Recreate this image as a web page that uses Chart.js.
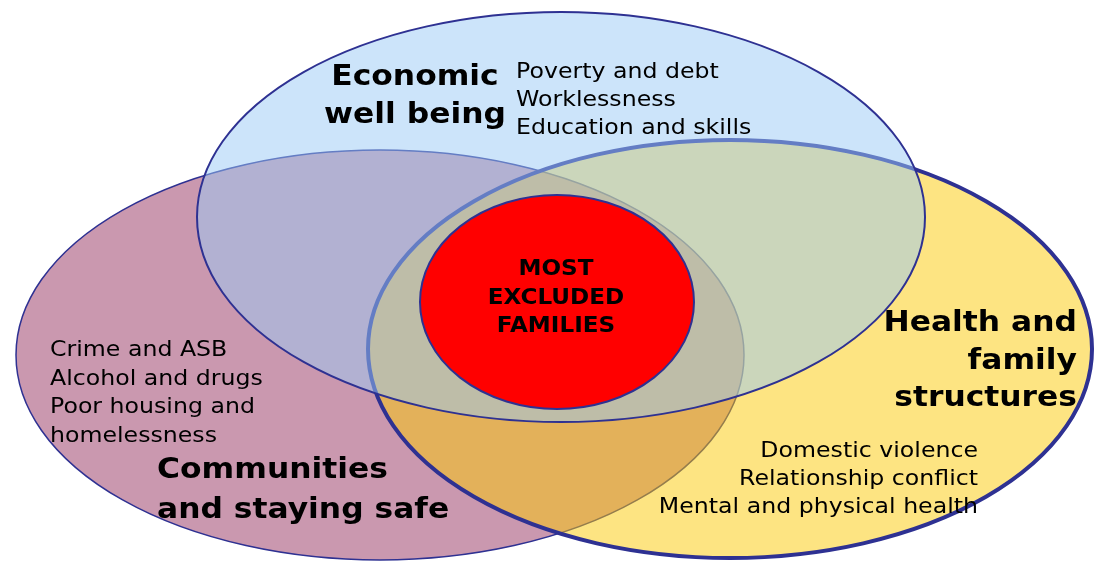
<!DOCTYPE html>
<html>
<head>
<meta charset="utf-8">
<script src="https://cdn.jsdelivr.net/npm/chart.js@4"></script>
<style>
    html, body { margin: 0; padding: 0; background: #ffffff; }
    #wrap { width: 1094px; height: 565px; }
</style>
</head>
<body>
<div id="wrap"><canvas id="venn"></canvas></div>
<script>
// Conjuntos do diagrama (ordem de desenho: de baixo para cima)
const sets = ['Communities and staying safe', 'Health and family structures', 'Economic well being', 'Most excluded families'];
const centreX = [380, 730, 561, 557];
const centreY = [355, 349, 217, 302];
const radiusX = [364, 362, 364, 137];
const radiusY = [205, 209, 205, 107];

// Títulos e listas de cada área
const economicTitle = ['Economic', 'well being'];
const economicItems = ['Poverty and debt', 'Worklessness', 'Education and skills'];
const communityTitle = ['Communities', 'and staying safe'];
const communityItems = ['Crime and ASB', 'Alcohol and drugs', 'Poor housing and', 'homelessness'];
const healthTitle = ['Health and', 'family', 'structures'];
const healthItems = ['Domestic violence', 'Relationship conflict', 'Mental and physical health'];
const centreTitle = ['MOST', 'EXCLUDED', 'FAMILIES'];

// Estilos das elipses
const fills = ['rgb(202,152,175)', 'rgba(251,201,5,0.5)', 'rgba(153,201,245,0.5)', '#ff0000'];
const strokes = ['#2e3192', '#2e3192', '#2e3192', '#2e3192'];
const strokeWidths = [1.5, 4, 2, 2];

// Posição dos blocos de texto (em unidades do eixo)
const textBlocks = [
    { lines: economicTitle, x: 415, y: 85, step: 38, align: 'center', bold: true, size: 27.5, sx: 1.14 },
    { lines: economicItems, x: 516, y: 78, step: 28, align: 'left', bold: false, size: 21.5, sx: 1.1 },
    { lines: communityItems, x: 50, y: 356, step: 28.6, align: 'left', bold: false, size: 21.5, sx: 1.1 },
    { lines: communityTitle, x: 157, y: 478, step: 40, align: 'left', bold: true, size: 27.5, sx: 1.14 },
    { lines: healthTitle, x: 1077, y: 331, step: 37.5, align: 'right', bold: true, size: 27.5, sx: 1.14 },
    { lines: healthItems, x: 978, y: 457, step: 28, align: 'right', bold: false, size: 21.5, sx: 1.1 },
    { lines: centreTitle, x: 556, y: 275, step: 28.5, align: 'center', bold: true, size: 21, sx: 1.1 }
];

const vennPlugin = {
    id: 'venn',
    beforeDatasetsDraw(chart) {
        const ctx = chart.ctx;
        const xs = chart.scales.x;
        const ys = chart.scales.y;
        sets.forEach((name, i) => {
            const cx = xs.getPixelForValue(centreX[i]);
            const cy = ys.getPixelForValue(centreY[i]);
            const rx = Math.abs(xs.getPixelForValue(centreX[i] + radiusX[i]) - cx);
            const ry = Math.abs(ys.getPixelForValue(centreY[i] + radiusY[i]) - cy);
            ctx.save();
            ctx.beginPath();
            ctx.ellipse(cx, cy, rx, ry, 0, 0, Math.PI * 2);
            ctx.fillStyle = fills[i];
            ctx.fill();
            ctx.lineWidth = strokeWidths[i];
            ctx.strokeStyle = strokes[i];
            ctx.stroke();
            ctx.restore();
        });
    },
    afterDatasetsDraw(chart) {
        const ctx = chart.ctx;
        const xs = chart.scales.x;
        const ys = chart.scales.y;
        textBlocks.forEach(b => {
            b.lines.forEach((t, k) => {
                ctx.save();
                ctx.translate(xs.getPixelForValue(b.x), ys.getPixelForValue(b.y + k * b.step));
                ctx.scale(b.sx, 1);
                ctx.font = (b.bold ? 'bold ' : '') + b.size + 'px "DejaVu Sans", Verdana, sans-serif';
                ctx.fillStyle = '#000000';
                ctx.textAlign = b.align;
                ctx.textBaseline = 'alphabetic';
                ctx.fillText(t, 0, 0);
                ctx.restore();
            });
        });
    }
};

new Chart(document.getElementById('venn'), {
    type: 'scatter',
    data: {
        datasets: [{
            label: 'Centres',
            data: sets.map((s, i) => ({ x: centreX[i], y: centreY[i] })),
            pointRadius: 0,
            pointHoverRadius: 0
        }]
    },
    options: {
        responsive: true,
        maintainAspectRatio: false,
        animation: false,
        layout: { padding: 0 },
        plugins: {
            legend: { display: false },
            tooltip: { enabled: false }
        },
        scales: {
            x: { type: 'linear', min: 0, max: 1094, display: false },
            y: { type: 'linear', min: 0, max: 565, reverse: true, display: false }
        }
    },
    plugins: [vennPlugin]
});
</script>
</body>
</html>
